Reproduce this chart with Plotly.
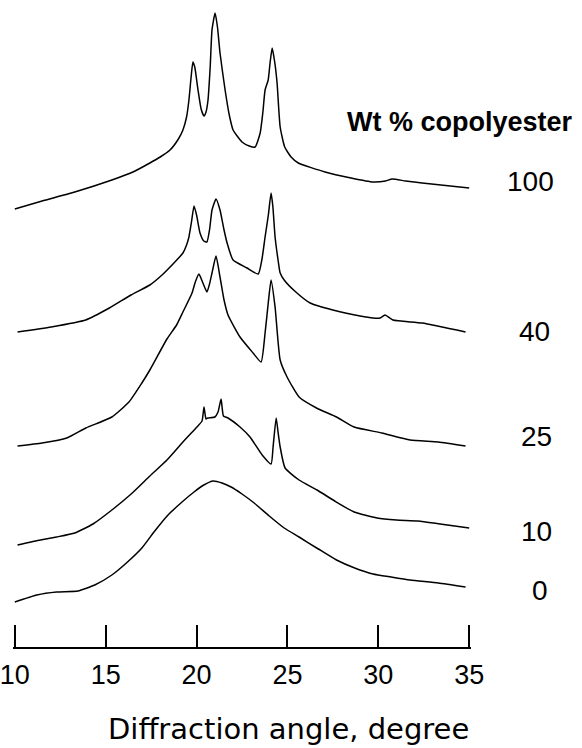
import plotly.graph_objects as go

# Diffraction angle (degree) and stacked intensity (arbitrary units) for each blend
x_100 = [10.0, 11.5, 13.3, 15.34, 16.5, 17.43, 18.0, 18.54, 19.0, 19.25, 19.45, 19.58, 19.7, 19.8,
         19.9, 20.08, 20.25, 20.41, 20.52, 20.63, 20.75, 20.85, 21.02, 21.15, 21.29, 21.57, 21.8,
         22.01, 22.5, 22.9, 23.22, 23.5, 23.65, 23.77, 23.94, 24.05, 24.16, 24.3, 24.43, 24.6,
         24.85, 25.2, 25.6, 27.07, 28.5, 29.71, 30.4, 30.76, 31.5, 32.41, 35.0]
y_100 = [438, 446, 455, 467, 475, 484, 490, 497, 508, 517, 530, 547, 570, 585,
         580, 557, 538, 531, 535, 547, 580, 617, 634, 620, 594, 557, 532,
         517, 505, 501, 500, 514, 535, 557, 567, 585, 599, 585, 564, 520,
         500, 490, 484, 475, 469, 465, 466, 468, 466, 464, 459]

x_40 = [10.15, 12.0, 13.9, 15.2, 16.39, 17.43, 18.1, 18.65, 19.25, 19.45, 19.58, 19.72, 19.86,
        20.0, 20.19, 20.4, 20.57, 20.72, 20.85, 21.07, 21.29, 21.5, 21.68, 22.01, 22.78, 23.39,
        23.6, 23.77, 23.95, 24.1, 24.2, 24.32, 24.5, 24.6, 24.82, 25.4, 26.25, 27.5, 29.0, 29.71,
        30.1, 30.37, 30.8, 32.41, 34.8]
y_40 = [315, 320, 327, 339, 352, 362, 372, 382, 394, 402, 410, 425, 441,
        432, 414, 406, 405, 418, 437, 448, 437, 418, 404, 387, 379, 373,
        388, 410, 432, 454, 440, 410, 385, 374, 367, 356, 344, 337, 331, 329,
        329, 332, 327, 324, 315]

x_25 = [10.15, 11.5, 12.86, 13.91, 15.34, 16.28, 16.99, 17.43, 18.37, 18.9, 19.25, 19.75, 19.95,
        20.13, 20.35, 20.57, 20.7, 20.85, 21.07, 21.29, 21.5, 21.73, 22.39, 23.11, 23.55, 23.77,
        23.95, 24.1, 24.32, 24.6, 24.98, 25.64, 26.6, 27.7, 28.67, 30.2, 31.75, 33.3, 34.8]
y_25 = [201, 204, 209, 219, 230, 245, 264, 277, 308, 322, 335, 354, 366,
        373, 364, 355, 362, 374, 391, 370, 348, 332, 310, 294, 285, 314,
        345, 367, 340, 287, 270, 250, 239, 230, 220, 214, 207, 205, 201]

x_10 = [10.15, 11.41, 12.3, 13.3, 14.3, 15.34, 16.4, 17.43, 18.37, 19.25, 20.02, 20.3, 20.41,
        20.52, 20.62, 21.01, 21.18, 21.35, 21.48, 21.73, 22.39, 22.94, 23.61, 24.1, 24.21, 24.38,
        24.49, 24.6, 24.87, 25.64, 26.63, 27.6, 28.67, 29.93, 31.0, 32.19, 33.4, 35.0]
y_10 = [102, 107, 110, 114, 123, 137, 153, 171, 187, 205, 220, 226, 240,
        228, 229, 230, 235, 248, 231, 229, 220, 210, 192, 183, 200, 229,
        214, 200, 179, 167, 157, 146, 135, 129, 127, 126, 123, 119]

x_0 = [10.0, 11.21, 12.3, 13.47, 14.4, 15.34, 16.2, 16.99, 17.7, 18.43, 19.2, 19.86, 20.4, 20.91,
       21.4, 21.9, 22.5, 23.17, 24.0, 24.82, 25.64, 26.7, 27.7, 28.7, 29.71, 30.7, 31.75, 33.3,
       34.8]
y_0 = [45, 52, 55, 56, 62, 72, 85, 99, 116, 132, 145, 155, 162, 166,
       164, 160, 153, 144, 131, 119, 110, 98, 87, 79, 73, 70, 67, 64,
       60]

series_labels = ["100", "40", "25", "10", "0"]
legend_title = "Wt % copolyester"
tick_vals = [10, 15, 20, 25, 30, 35]
tick_text = ["10", "15", "20", "25", "30", "35"]
x_title = "Diffraction angle, degree"

fig = go.Figure()
for xs, ys, name in [(x_100, y_100, "100"), (x_40, y_40, "40"), (x_25, y_25, "25"),
                     (x_10, y_10, "10"), (x_0, y_0, "0")]:
    fig.add_trace(go.Scatter(x=xs, y=ys, mode="lines", name=name,
                             line=dict(color="black", width=1.5, shape="spline", smoothing=0.5),
                             showlegend=False, hoverinfo="skip"))

# label positions in paper coordinates
label_pos = {"100": (1.129, 0.720), "40": (1.138, 0.488), "25": (1.144, 0.325),
             "10": (1.144, 0.178), "0": (1.151, 0.088)}
for lab in series_labels:
    lx, ly = label_pos[lab]
    fig.add_annotation(x=lx, y=ly, xref="paper", yref="paper", text=lab, showarrow=False,
                       xanchor="center", yanchor="middle",
                       font=dict(family="Liberation Sans", size=28, color="black"))

fig.add_annotation(x=0.976, y=0.812, xref="paper", yref="paper", text=legend_title,
                   showarrow=False, xanchor="center", yanchor="middle",
                   font=dict(family="Liberation Sans", size=27, color="black", weight="bold"))

fig.add_annotation(x=0.6026, y=-0.1265, xref="paper", yref="paper", text=x_title,
                   showarrow=False, xanchor="center", yanchor="middle",
                   font=dict(family="DejaVu Sans", size=29, color="black"))

fig.update_layout(
    width=582, height=748,
    margin=dict(l=13, r=111, t=0, b=101, autoexpand=False),
    paper_bgcolor="white", plot_bgcolor="white",
    xaxis=dict(range=[9.9, 35.1], tickvals=tick_vals, ticktext=tick_text,
               ticks="inside", ticklen=22, tickwidth=1.6, tickcolor="black",
               showline=True, linecolor="black", linewidth=2, showgrid=False, zeroline=False,
               automargin=False, ticklabelstandoff=3, ticklabeloverflow="allow",
               tickfont=dict(family="Liberation Sans", size=27, color="black")),
    yaxis=dict(range=[0, 647], visible=False, automargin=False),
)

fig.write_html("out.html", config={"displayModeBar": False},
               post_script="document.body.style.margin='0';document.body.style.overflow='hidden';")
